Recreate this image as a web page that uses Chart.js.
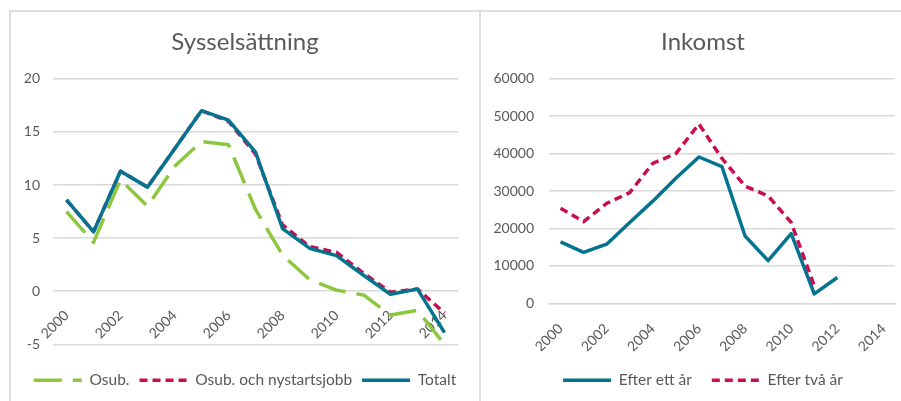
<!DOCTYPE html>
<html>
<head>
<meta charset="utf-8">
<script src="https://cdn.jsdelivr.net/npm/chart.js@4/dist/chart.umd.min.js"></script>
<style>
body { margin: 0; width: 901px; height: 401px; overflow: hidden; background: #fff; position: relative; }
.panel { position: absolute; top: 10px; border-top: 2px solid #dedede; border-left: 2px solid #dedede; box-sizing: border-box; }
#leftPanel { left: 9px; width: 470px; height: 391px; }
#rightPanel { left: 479px; width: 446px; height: 391px; }
canvas { position: absolute; left: 0; top: 0; }
</style>
</head>
<body>
<div class="panel" id="leftPanel"><canvas id="sysselChart" width="468" height="389"></canvas></div>
<div class="panel" id="rightPanel"><canvas id="inkomstChart" width="444" height="389"></canvas></div>
<script>
// Years on the category axis
var years = ['2000', '2001', '2002', '2003', '2004', '2005', '2006', '2007',
             '2008', '2009', '2010', '2011', '2012', '2013', '2014'];

// Sysselsättning
var osub = [7.5, 4.6, 10.5, 8.0, 11.75, 14.1, 13.8, 7.7, 3.4, 1.1, 0.1, -0.35, -2.25, -1.8, -5.0];
var osubNystart = [8.6, 5.6, 11.3, 9.8, 13.4, 17.0, 16.0, 12.9, 6.25, 4.2, 3.65, 1.7, -0.1, 0.2, -2.05];
var totalt = [8.6, 5.6, 11.3, 9.8, 13.4, 17.0, 16.1, 13.1, 5.9, 4.05, 3.35, 1.5, -0.3, 0.2, -3.9];

// Inkomst
var efterEttAr = [16400, 13600, 15800, 21600, 27300, 33400, 39100, 36500, 18000, 11400, 18600, 2500, 6900, null, null];
var efterTvaAr = [25400, 21800, 26700, 29600, 37400, 40000, 47900, 38700, 31300, 28700, 21600, 4700, null, null, null];

var green = '#8dc63f';
var red = '#c90d53';
var blue = '#03738f';
var textColor = '#595959';
var gridColor = '#d9d9d9';

Chart.defaults.font.family = "Lato, 'Open Sans', sans-serif";
Chart.defaults.font.size = 14;
Chart.defaults.color = textColor;

// Only every other year gets a label
function everyOther(value, index) {
    return index % 2 == 0 ? this.getLabelForValue(value) : '';
}

function lineSet(label, data, color, dash, order) {
    return {
        label: label,
        data: data,
        borderColor: color,
        backgroundColor: color,
        borderWidth: 3.5,
        borderDash: dash,
        borderJoinStyle: 'round',
        pointRadius: 0,
        tension: 0,
        fill: false,
        order: order
    };
}

// Legend samples drawn as short lines with the dataset's dash
function lineLabels(chart) {
    return chart.data.datasets.map((ds, i) => ({
        text: ds.label,
        datasetIndex: i,
        fillStyle: ds.borderColor,
        strokeStyle: ds.borderColor,
        lineWidth: ds.borderWidth,
        lineDash: ds.borderDash,
        lineCap: 'butt',
        pointStyle: 'line',
        fontColor: textColor,
        hidden: false
    }));
}

function legendOpts(pad, spacer) {
    return {
        position: 'bottom',
        title: { display: true, text: '', padding: { top: 0, bottom: spacer }, font: { size: 1 } },
        labels: {
            usePointStyle: true,
            pointStyle: 'line',
            pointStyleWidth: 48,
            padding: pad,
            color: textColor,
            font: { size: 15.5 },
            generateLabels: lineLabels
        }
    };
}

function titleOpts(text) {
    return {
        display: true,
        text: text,
        color: textColor,
        font: { size: 24, weight: 'normal' },
        padding: { top: 16, bottom: 22 }
    };
}

// Empty axis on the right so the plot ends early but title and legend stay centred
function spacerAxis(w) {
    return {
        position: 'right',
        ticks: { display: false },
        grid: { display: false },
        border: { display: false },
        afterFit: function(scale) { scale.width = w; }
    };
}

new Chart(document.getElementById('sysselChart'), {
    type: 'line',
    data: {
        labels: years,
        datasets: [
            lineSet('Osub.', osub, green, [28, 11], 3),
            lineSet('Osub. och nystartsjobb', osubNystart, red, [8, 5], 2),
            lineSet('Totalt', totalt, blue, [], 1)
        ]
    },
    options: {
        responsive: false,
        animation: false,
        layout: { padding: { left: 0, right: 0, top: 0, bottom: 3 } },
        plugins: {
            title: titleOpts('Sysselsättning'),
            legend: legendOpts(10, 17),
            tooltip: { enabled: false }
        },
        scales: {
            x: {
                position: { y: 0 },
                offset: true,
                grid: { display: false },
                border: { display: false },
                ticks: { autoSkip: false, minRotation: 45, maxRotation: 45, padding: 8, callback: everyOther }
            },
            y: {
                min: -5,
                max: 20,
                ticks: { stepSize: 5, padding: 13 },
                grid: { color: gridColor, lineWidth: 1.5, drawTicks: false },
                border: { display: false },
                afterFit: function(scale) { scale.width = 42; }
            },
            pad: spacerAxis(21)
        }
    }
});

new Chart(document.getElementById('inkomstChart'), {
    type: 'line',
    data: {
        labels: years,
        datasets: [
            lineSet('Efter ett år', efterEttAr, blue, [], 2),
            lineSet('Efter två år', efterTvaAr, red, [8, 5], 1)
        ]
    },
    options: {
        responsive: false,
        animation: false,
        layout: { padding: { left: 0, right: 0, top: 0, bottom: 3 } },
        plugins: {
            title: titleOpts('Inkomst'),
            legend: legendOpts(20, 0),
            tooltip: { enabled: false }
        },
        scales: {
            x: {
                offset: true,
                grid: { display: false },
                border: { color: gridColor, width: 1.5 },
                ticks: { autoSkip: false, minRotation: 45, maxRotation: 45, padding: 9, callback: everyOther },
                afterFit: function(scale) { scale.height = 48; }
            },
            y: {
                min: 0,
                max: 60000,
                ticks: { stepSize: 10000, padding: 15, callback: value => String(value) },
                grid: { color: gridColor, lineWidth: 1.5, drawTicks: false },
                border: { display: false },
                afterFit: function(scale) { scale.width = 68; }
            },
            pad: spacerAxis(30)
        }
    }
});
</script>
</body>
</html>
